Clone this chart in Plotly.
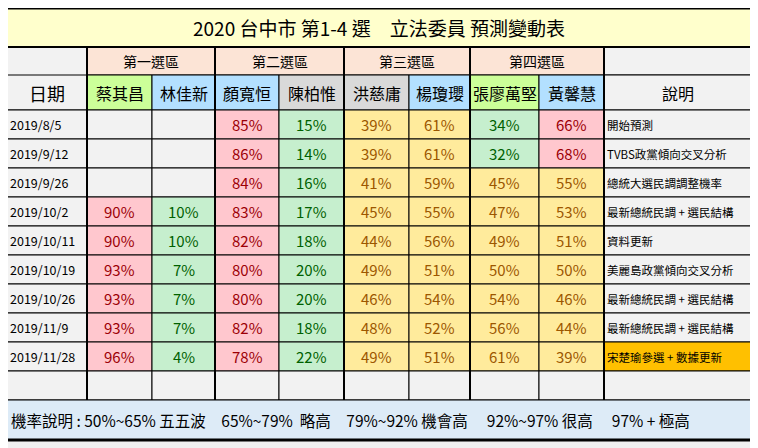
import plotly.graph_objects as go

title = "2020 台中市 第1-4 選　立法委員 預測變動表"
districts = ["第一選區", "第二選區", "第三選區", "第四選區"]
candidates = ["蔡其昌", "林佳新", "顏寬恒", "陳柏惟", "洪慈庸", "楊瓊瓔", "張廖萬堅", "黃馨慧"]
dates = ["2019/8/5", "2019/9/12", "2019/9/26", "2019/10/2", "2019/10/11",
         "2019/10/19", "2019/10/26", "2019/11/9", "2019/11/28"]
cai = [None, None, None, 90, 90, 93, 93, 93, 96]
lin = [None, None, None, 10, 10, 7, 7, 7, 4]
yan = [85, 86, 84, 83, 82, 80, 80, 82, 78]
chen = [15, 14, 16, 17, 18, 20, 20, 18, 22]
hong = [39, 39, 41, 45, 44, 49, 46, 48, 49]
yang = [61, 61, 59, 55, 56, 51, 54, 52, 51]
zhang = [34, 32, 45, 47, 49, 50, 54, 56, 61]
huang = [66, 68, 55, 53, 51, 50, 46, 44, 39]
notes = ["開始預測", "TVBS政黨傾向交叉分析", "總統大選民調調整機率", "最新總統民調 + 選民結構",
         "資料更新", "美麗島政黨傾向交叉分析", "最新總統民調 + 選民結構", "最新總統民調 + 選民結構",
         "宋楚瑜參選 + 數據更新"]
legend_text = "機率說明 : 50%~65% 五五波　65%~79%  略高　79%~92% 機會高　 92%~97% 很高　 97% + 極高"
series = [cai, lin, yan, chen, hong, yang, zhang, huang]

FONT = "Noto Sans CJK TC"
cx = [6, 87, 152, 215, 279, 344, 409, 470, 539, 604, 752]
title_y = (8, 47)
h1 = (47, 75)
h2 = (75, 110)
row_top, row_h = 110, 29.0
empty = (371, 400)
leg = (400, 440)
name_bg = ["#CCFF99", "#B3E0FF", "#B3E0FF", "#D9D9D9", "#D9D9D9", "#B3E0FF", "#CCFF99", "#B3E0FF"]

shapes, ann = [], []
def rect(x0, x1, y0, y1, fill, lw=1):
    shapes.append(dict(type="rect", xref="x", yref="y", x0=x0, x1=x1, y0=y0, y1=y1,
                       fillcolor=fill, line=dict(color="black", width=lw), layer="below"))
def text(x, y, s, size, color="black", anchor="center"):
    ann.append(dict(x=x, y=y, xref="x", yref="y", text=s, showarrow=False, xanchor=anchor,
                    font=dict(family=FONT, size=size, color=color)))

rect(cx[0], cx[-1], *title_y, "#FFFFCC")
text((cx[0] + cx[-1]) / 2, sum(title_y) / 2, title, 19)
rect(cx[0], cx[1], h1[0], h2[1], "#F2F2F2")
text((cx[0] + cx[1]) / 2, sum(h2) / 2, "日期", 18)
rect(cx[0], cx[1], *h1, "#F2F2F2")
for i, d in enumerate(districts):
    x0, x1 = cx[1 + 2 * i], cx[3 + 2 * i]
    rect(x0, x1, *h1, "#FCE4D6")
    text((x0 + x1) / 2, sum(h1) / 2, d, 14)
rect(cx[9], cx[10], *h1, "#F2F2F2")
for j, c in enumerate(candidates):
    rect(cx[1 + j], cx[2 + j], *h2, name_bg[j])
    text((cx[1 + j] + cx[2 + j]) / 2, sum(h2) / 2, c, 16)
rect(cx[9], cx[10], *h2, "#F2F2F2")
text((cx[9] + cx[10]) / 2, sum(h2) / 2, "說明", 16)

def style(v):
    if v is None:
        return "#F2F2F2", "black"
    if v >= 65:
        return "#FFC7CE", "#9C0006"
    if v <= 35:
        return "#C6EFCE", "#006100"
    return "#FFEB9C", "#9C5700"

for r, d in enumerate(dates):
    y0 = row_top + r * row_h
    y1 = y0 + row_h
    ym = (y0 + y1) / 2
    rect(cx[0], cx[1], y0, y1, "#F2F2F2")
    text(cx[0] + 2, ym, d, 12.5, anchor="left")
    for j, s in enumerate(series):
        v = s[r]
        bg, fg = style(v)
        rect(cx[1 + j], cx[2 + j], y0, y1, bg)
        if v is not None:
            text((cx[1 + j] + cx[2 + j]) / 2, ym, f"{v}%", 15, fg)
    nb = "#FFC000" if r == len(dates) - 1 else "#F2F2F2"
    rect(cx[9], cx[10], y0, y1, nb)
    text(cx[9] + 1, ym, notes[r], 11.5, anchor="left")
for j in range(10):
    rect(cx[j], cx[j + 1], *empty, "#F2F2F2")
rect(cx[0], cx[-1], *leg, "#DDEBF7")
text(cx[0] + 3, sum(leg) / 2, legend_text, 15.5, anchor="left")

for xv in [cx[1], cx[3], cx[5], cx[7], cx[9]]:
    shapes.append(dict(type="line", xref="x", yref="y", x0=xv, x1=xv, y0=h1[0], y1=empty[1],
                       line=dict(color="black", width=2)))
shapes.append(dict(type="line", xref="x", yref="y", x0=cx[0], x1=cx[-1], y0=h1[0], y1=h1[0],
                   line=dict(color="black", width=2)))
shapes.append(dict(type="rect", xref="x", yref="y", x0=cx[0], x1=cx[-1], y0=title_y[0], y1=leg[1],
                   line=dict(color="black", width=3)))

fig = go.Figure()
fig.add_trace(go.Scatter(x=[100], y=[100], mode="markers", marker=dict(opacity=0), hoverinfo="skip"))
# page has an 8px body margin: figure covers pixels 8..758, so ranges start at 8
fig.update_layout(width=750, height=440, margin=dict(l=0, r=0, t=0, b=0),
                  paper_bgcolor="#F0F0F0", plot_bgcolor="#F0F0F0", showlegend=False,
                  xaxis=dict(range=[8, 758], visible=False, fixedrange=True),
                  yaxis=dict(range=[448, 8], visible=False, fixedrange=True),
                  shapes=shapes, annotations=ann)
fig.write_html("out.html")
